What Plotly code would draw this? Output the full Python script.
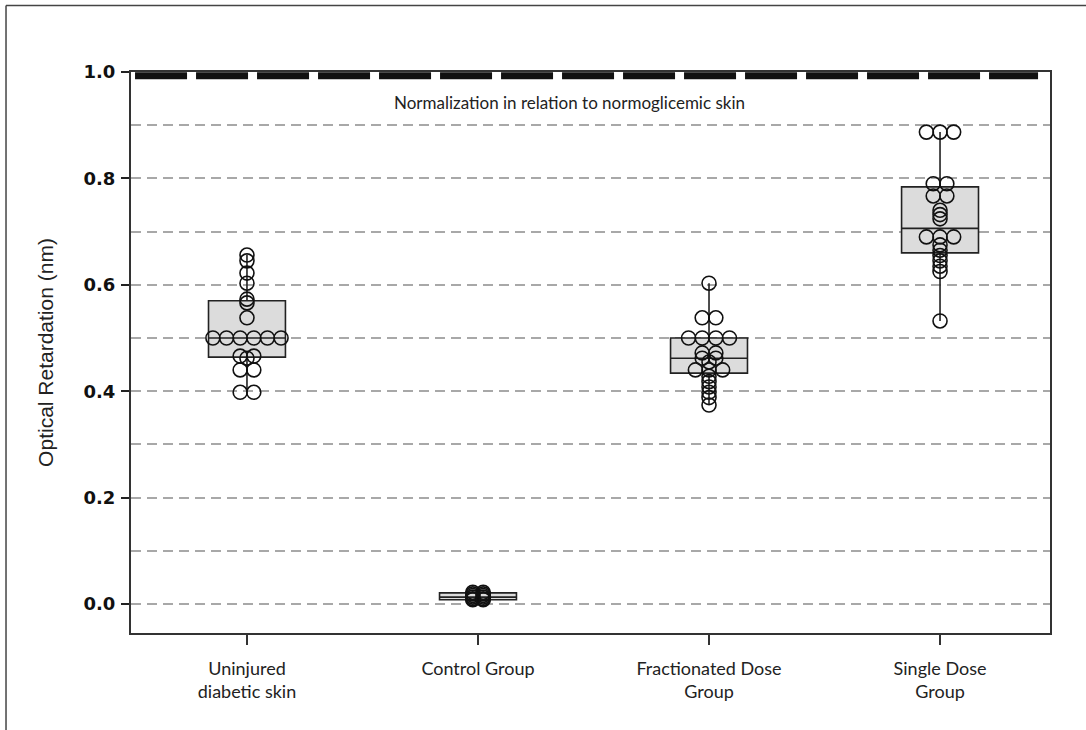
import plotly.graph_objects as go

categories = ["Uninjured<br>diabetic skin", "Control Group", "Fractionated Dose<br>Group", "Single Dose<br>Group"]

uninjured = [0.656, 0.645, 0.622, 0.603, 0.573, 0.566, 0.538,
             0.50, 0.50, 0.50, 0.50, 0.50, 0.50,
             0.466, 0.466, 0.462, 0.44, 0.44, 0.398, 0.398]
control = [0.022, 0.022, 0.019, 0.019, 0.016, 0.016, 0.013, 0.013, 0.010, 0.010, 0.008, 0.008]
fractionated = [0.603, 0.538, 0.538, 0.50, 0.50, 0.50, 0.50,
                0.472, 0.472, 0.462, 0.462, 0.455, 0.44, 0.44, 0.44,
                0.428, 0.418, 0.408, 0.398, 0.388, 0.374]
single = [0.887, 0.887, 0.887, 0.79, 0.79, 0.767, 0.767, 0.74, 0.732, 0.724,
          0.69, 0.69, 0.69, 0.675, 0.665, 0.655, 0.645, 0.635, 0.625, 0.532]

groups = [uninjured, control, fractionated, single]

# box statistics
q1 = [0.464, 0.008, 0.434, 0.660]
median = [0.500, 0.013, 0.462, 0.706]
q3 = [0.570, 0.021, 0.500, 0.784]
lowerfence = [0.398, 0.007, 0.374, 0.532]
upperfence = [0.656, 0.023, 0.603, 0.887]

y_ticks = [0.0, 0.2, 0.4, 0.6, 0.8, 1.0]
y_tick_text = ["0.0", "0.2", "0.4", "0.6", "0.8", "1.0"]

fig = go.Figure()

for i in range(4):
    fig.add_trace(go.Box(
        x=[i], q1=[q1[i]], median=[median[i]], q3=[q3[i]],
        lowerfence=[lowerfence[i]], upperfence=[upperfence[i]],
        width=0.333, whiskerwidth=0, boxpoints=False,
        fillcolor="#dcdcdc", line=dict(color="#222222", width=1.6),
        showlegend=False, hoverinfo="skip"))

# points: identical values spread horizontally, centred on the category
pitch = 0.059
for i, vals in enumerate(groups):
    step = 0.045 if i == 1 else pitch
    xs, ys = [], []
    uniq = []
    for v in vals:
        if v not in uniq:
            uniq.append(v)
    for v in uniq:
        k = vals.count(v)
        for j in range(k):
            xs.append(i + (j - (k - 1) / 2) * step)
            ys.append(v)
    fig.add_trace(go.Scatter(
        x=xs, y=ys, mode="markers",
        marker=dict(symbol="circle-open", size=14, color="#111111", line=dict(width=1.6)),
        showlegend=False, hoverinfo="skip", cliponaxis=False))

grid_style = dict(gridcolor="#a8a8a8", gridwidth=1.6, griddash="10px,6px")

fig.update_layout(
    width=1086, height=730,
    margin=dict(l=131, r=36, t=72, b=97),
    paper_bgcolor="white", plot_bgcolor="white",
    xaxis=dict(
        range=[-0.502, 3.476], tickvals=[0, 1, 2, 3], ticktext=categories,
        showgrid=False, zeroline=False, showline=True, mirror=True,
        linecolor="#333333", linewidth=2,
        ticks="outside", ticklen=10, tickwidth=1.5, tickcolor="#333333",
        ticklabelstandoff=8,
        tickfont=dict(family="Lato", size=18, color="#222222")),
    yaxis=dict(
        range=[-0.0545, 1.0], tickvals=y_ticks, ticktext=y_tick_text,
        showgrid=True, zeroline=False, showline=True, mirror=True,
        linecolor="#333333", linewidth=2,
        ticks="outside", ticklen=8, tickwidth=2, tickcolor="#222222",
        ticklabelstandoff=2,
        tickfont=dict(family="DejaVu Sans", size=18, color="#111111", weight="bold"),
        minor=dict(dtick=0.1, showgrid=True, ticks="", **grid_style),
        title=dict(text="Optical Retardation (nm)", standoff=24,
                   font=dict(family="Liberation Sans", size=21, color="#222222")),
        **grid_style),
    shapes=[
        dict(type="line", xref="paper", yref="y", x0=0.0044, x1=0.987, y0=0.993, y1=0.993,
             line=dict(color="#111111", width=7, dash="52px,9px")),
        dict(type="line", xref="paper", yref="paper", x0=-0.136, x1=-0.136, y0=-0.3, y1=1.1185,
             line=dict(color="#444444", width=1.5)),
        dict(type="line", xref="paper", yref="paper", x0=-0.136, x1=1.2, y0=1.1185, y1=1.1185,
             line=dict(color="#444444", width=1.5)),
    ],
    annotations=[
        dict(text="Normalization in relation to normoglicemic skin", x=1.398, y=0.942,
             xref="x", yref="y", showarrow=False,
             font=dict(family="Lato", size=17, color="#222222")),
    ],
)

fig.write_html("out.html", config={"displayModeBar": False},
               post_script="document.body.style.margin='0';")
